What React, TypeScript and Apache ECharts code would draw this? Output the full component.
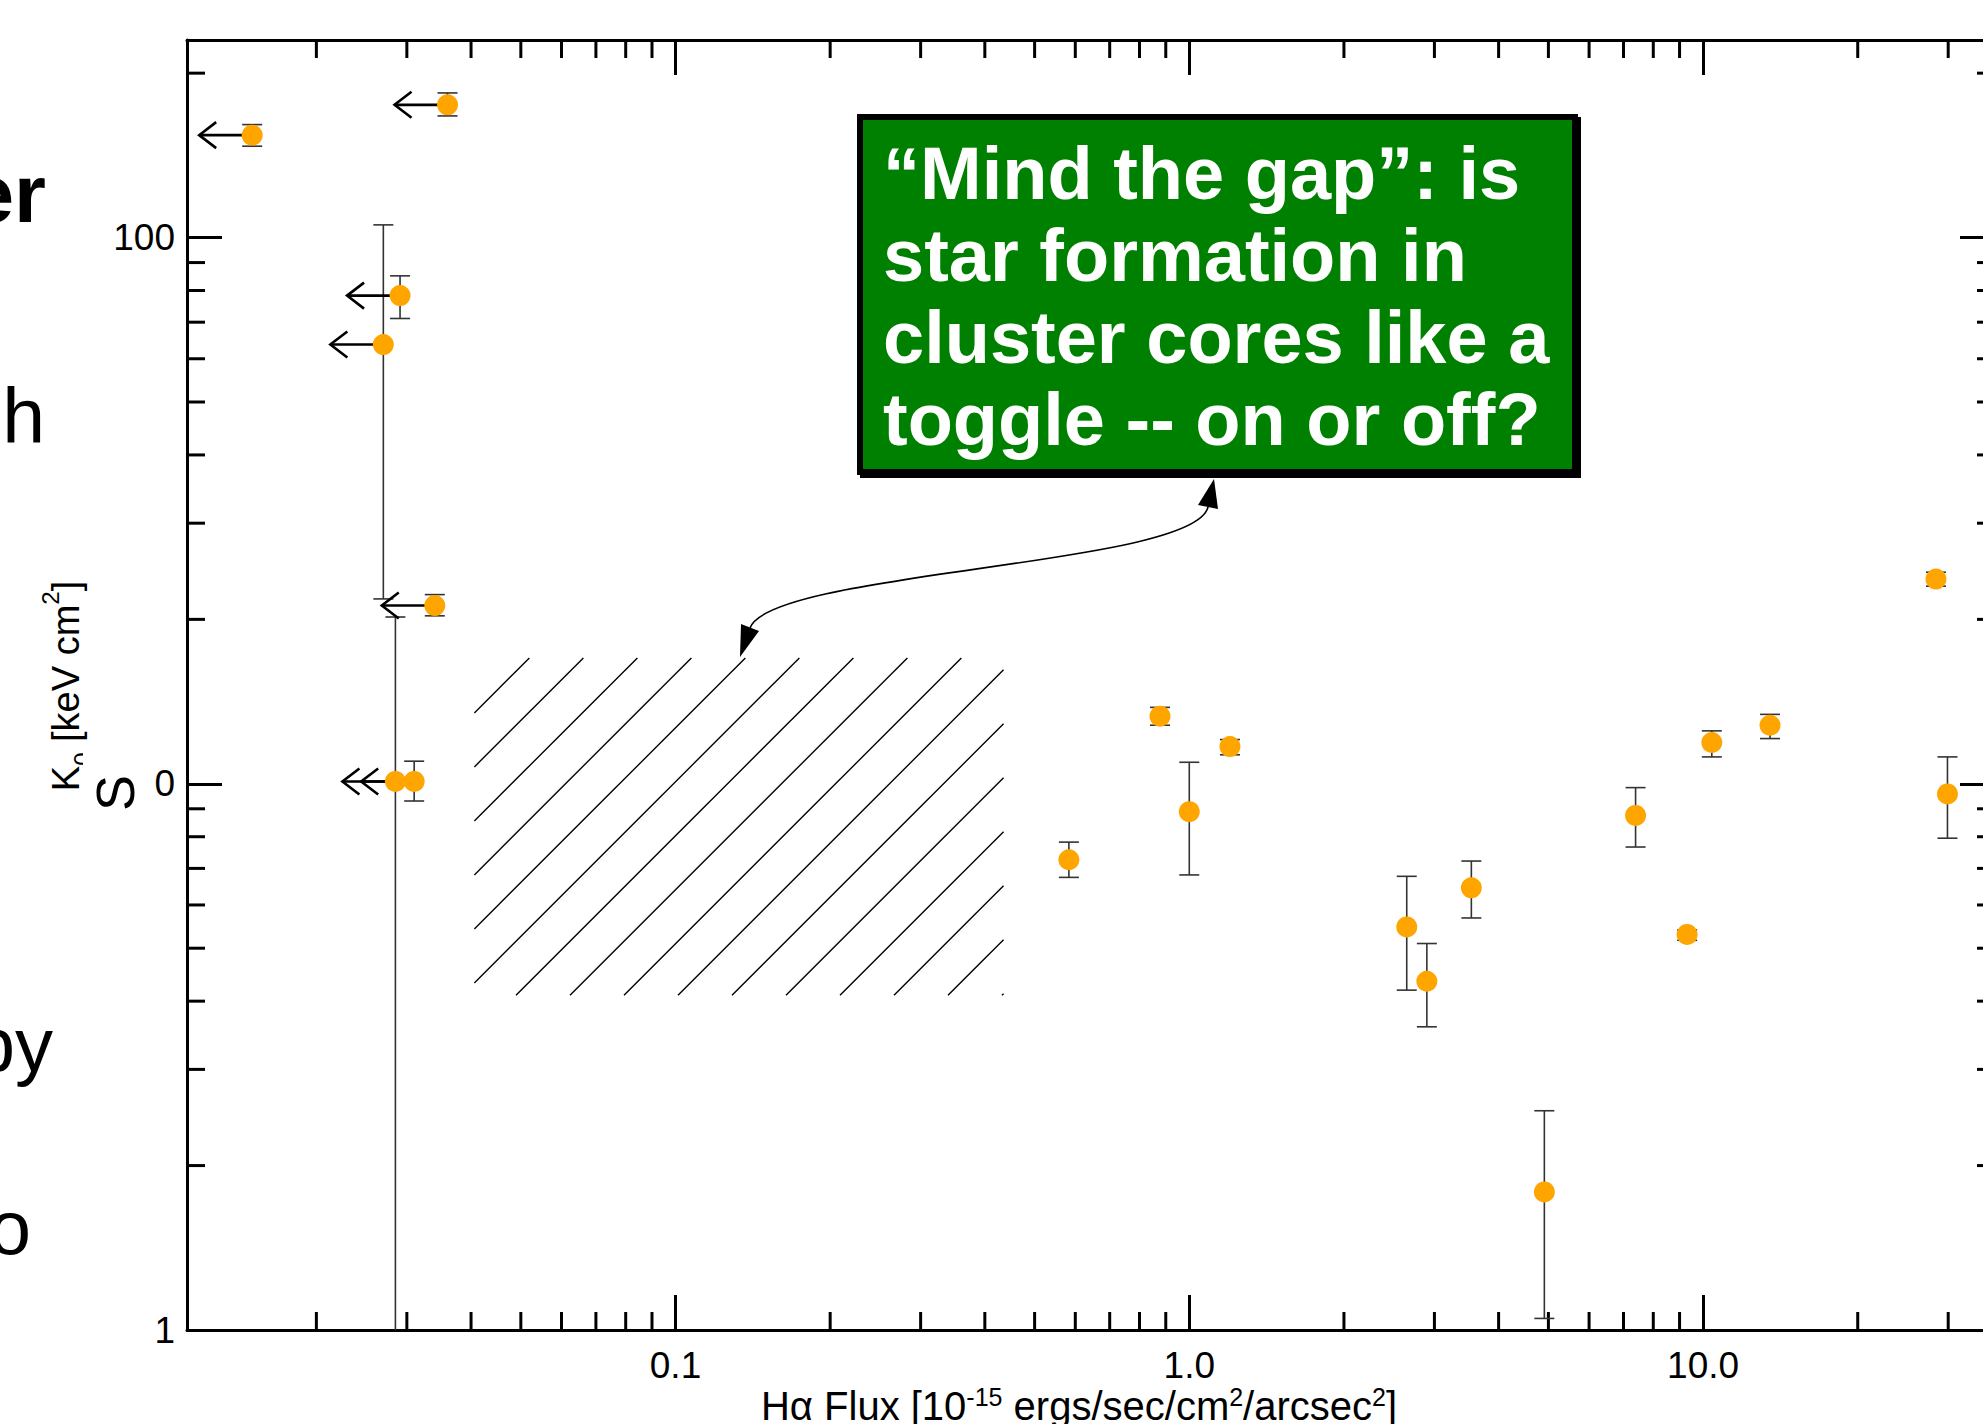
import React, { useEffect, useRef } from "react";
import * as echarts from "echarts";

// ---- axis ranges & ticks ----
const X_MIN = 0.0112;
const X_MAX = 37;
const Y_MIN = 1;
const Y_MAX = 230;

const xMajorTicks = [0.1, 1, 10];
const xTickLabels = ["0.1", "1.0", "10.0"];
const yMajorTicks = [1, 10, 100];
const yTickLabels = ["1", "10", "100"];
const xMinorTicks = [0.02, 0.03, 0.04, 0.05, 0.06, 0.07, 0.08, 0.09, 0.2, 0.3, 0.4, 0.5, 0.6, 0.7, 0.8, 0.9, 2, 3, 4, 5, 6, 7, 8, 9, 20, 30];
const yMinorTicks = [2, 3, 4, 5, 6, 7, 8, 9, 20, 30, 40, 50, 60, 70, 80, 90, 200];

// ---- data: H-alpha flux vs K0 ----
const haFlux = [0.015, 0.036, 0.0291, 0.027, 0.034, 0.0285, 0.031, 0.583, 0.877, 1.0, 1.2, 2.65, 2.9, 3.54, 4.91, 7.39, 9.31, 10.4, 13.5, 28.4, 29.9];
const k0 = [154, 175, 78.3, 63.7, 21.2, 10.1, 10.1, 7.26, 13.3, 8.89, 11.7, 5.47, 4.35, 6.45, 1.79, 8.75, 5.3, 11.9, 12.8, 23.7, 9.58];
const k0Low = [147, 167, 71.1, 21.8, 20.3, 0.5, 9.3, 6.74, 12.8, 6.81, 11.3, 4.19, 3.59, 5.68, 1.05, 7.66, 5.17, 11.2, 12.1, 23.0, 7.95];
const k0High = [161, 184, 85.1, 105.5, 22.2, 20.2, 11.0, 7.82, 13.8, 10.95, 12.05, 6.77, 5.1, 7.22, 2.52, 9.84, 5.4, 12.5, 13.4, 24.4, 11.2];
const fluxUpperLimit = [true, true, true, true, true, true, true, false, false, false, false, false, false, false, false, false, false, false, false, false, false];

// ---- hatched "gap" region (x from, y top, x to, y bottom) ----
const gapRegion = [0.0406, 17, 0.435, 4.1];

const boxLines = [
  "\u201cMind the gap\u201d: is",
  "star formation in",
  "cluster cores like a",
  "toggle -- on or off?",
];

const FONT = '"Liberation Sans", Arial, Helvetica, sans-serif';

const near = (v: number, t: number) => Math.abs(v - t) / t < 1e-6;
const makeFormatter = (ticks: number[], labels: string[]) => (v: number) => {
  const i = ticks.findIndex((t) => near(v, t));
  return i >= 0 ? labels[i] : "";
};

const axisCommon: any = {
  type: "log",
  logBase: 10,
  axisLine: { show: true, onZero: false, lineStyle: { color: "#000", width: 3 } },
  axisTick: { show: true, inside: true, length: 35, lineStyle: { color: "#000", width: 3 } },
  splitLine: { show: false },
  minorTick: { show: false },
  minorSplitLine: { show: false },
};

const CHART_W = 2030;
const CHART_H = 1424;

export default function App() {
  const ref = useRef<HTMLDivElement>(null);

  useEffect(() => {
    if (!ref.current) return;
    const chart = echarts.init(ref.current, null, { renderer: "svg" });

    const tickStyle = { stroke: "#000", lineWidth: 3 };
    const MINOR = 18;

    const option: any = {
      animation: false,
      backgroundColor: "#fff",
      grid: { left: 187, top: 40, width: 1808, height: 1290, containLabel: false, outerBoundsMode: "none" },
      xAxis: [
        {
          ...axisCommon,
          position: "bottom",
          min: X_MIN,
          max: X_MAX,
          axisLabel: {
            show: true,
            margin: 17,
            fontSize: 37,
            lineHeight: 37,
            fontFamily: FONT,
            color: "#000",
            formatter: makeFormatter(xMajorTicks, xTickLabels),
          },
        },
        { ...axisCommon, position: "top", min: X_MIN, max: X_MAX, axisLabel: { show: false } },
      ],
      yAxis: [
        {
          ...axisCommon,
          position: "left",
          min: Y_MIN,
          max: Y_MAX,
          axisLabel: {
            show: true,
            margin: 12,
            fontSize: 37,
            fontFamily: FONT,
            color: "#000",
            formatter: makeFormatter(yMajorTicks, yTickLabels),
          },
        },
        { ...axisCommon, position: "right", min: Y_MIN, max: Y_MAX, axisLabel: { show: false } },
      ],
      series: [
        {
          type: "custom",
          name: "xMinorTicks",
          xAxisIndex: 0,
          yAxisIndex: 0,
          silent: true,
          data: xMinorTicks.map((v) => [v, Y_MIN]),
          renderItem: (params: any, api: any) => {
            const v = api.value(0);
            const b = api.coord([v, Y_MIN]);
            const t = api.coord([v, Y_MAX]);
            return {
              type: "group",
              children: [
                { type: "line", shape: { x1: b[0], y1: b[1], x2: b[0], y2: b[1] - MINOR }, style: tickStyle },
                { type: "line", shape: { x1: t[0], y1: t[1], x2: t[0], y2: t[1] + MINOR }, style: tickStyle },
              ],
            };
          },
        },
        {
          type: "custom",
          name: "yMinorTicks",
          xAxisIndex: 0,
          yAxisIndex: 0,
          silent: true,
          data: yMinorTicks.map((v) => [X_MIN, v]),
          renderItem: (params: any, api: any) => {
            const v = api.value(1);
            const l = api.coord([X_MIN, v]);
            const r = api.coord([X_MAX, v]);
            return {
              type: "group",
              children: [
                { type: "line", shape: { x1: l[0], y1: l[1], x2: l[0] + MINOR, y2: l[1] }, style: tickStyle },
                { type: "line", shape: { x1: r[0], y1: r[1], x2: r[0] - MINOR, y2: r[1] }, style: tickStyle },
              ],
            };
          },
        },
        {
          type: "custom",
          name: "gap",
          xAxisIndex: 0,
          yAxisIndex: 0,
          silent: true,
          data: [gapRegion],
          renderItem: (params: any, api: any) => {
            const p0 = api.coord([api.value(0), api.value(1)]);
            const p1 = api.coord([api.value(2), api.value(3)]);
            const X0 = p0[0], Y0 = p0[1], X1 = p1[0], Y1 = p1[1];
            const children: any[] = [];
            const spacing = 54;
            for (let c = X0 + Y0 + 55; c < X1 + Y1 - 1; c += spacing) {
              const xa = Math.max(X0, c - Y1);
              const xb = Math.min(X1, c - Y0);
              if (xb > xa) {
                children.push({
                  type: "line",
                  shape: { x1: xa, y1: c - xa, x2: xb, y2: c - xb },
                  style: { stroke: "#000", lineWidth: 1.4 },
                });
              }
            }
            return { type: "group", children };
          },
        },
        {
          type: "custom",
          name: "errorBars",
          xAxisIndex: 0,
          yAxisIndex: 0,
          clip: true,
          silent: true,
          data: haFlux.map((x, i) => [x, k0[i], k0Low[i], k0High[i]]),
          renderItem: (params: any, api: any) => {
            const x = api.value(0);
            const a = api.coord([x, api.value(3)]);
            const b = api.coord([x, api.value(2)]);
            const w = 10;
            const st = { stroke: "#333", lineWidth: 1.6 };
            return {
              type: "group",
              children: [
                { type: "line", shape: { x1: a[0], y1: a[1], x2: b[0], y2: b[1] }, style: st },
                { type: "line", shape: { x1: a[0] - w, y1: a[1], x2: a[0] + w, y2: a[1] }, style: st },
                { type: "line", shape: { x1: b[0] - w, y1: b[1], x2: b[0] + w, y2: b[1] }, style: st },
              ],
            };
          },
        },
        {
          type: "custom",
          name: "upperLimits",
          xAxisIndex: 0,
          yAxisIndex: 0,
          silent: true,
          data: haFlux.map((x, i) => [x, k0[i]]).filter((_, i) => fluxUpperLimit[i]),
          renderItem: (params: any, api: any) => {
            const p = api.coord([api.value(0), api.value(1)]);
            const tip = p[0] - 53;
            const st = { stroke: "#000", lineWidth: 2.6, fill: "none" };
            return {
              type: "group",
              children: [
                { type: "line", shape: { x1: tip, y1: p[1], x2: p[0], y2: p[1] }, style: st },
                {
                  type: "polyline",
                  shape: { points: [[tip + 17, p[1] - 13], [tip, p[1]], [tip + 17, p[1] + 13]] },
                  style: st,
                },
              ],
            };
          },
        },
        {
          type: "scatter",
          name: "K0",
          xAxisIndex: 0,
          yAxisIndex: 0,
          symbol: "circle",
          symbolSize: 21,
          z: 5,
          itemStyle: { color: "#FFA500", opacity: 1 },
          data: haFlux.map((x, i) => [x, k0[i]]),
        },
      ],
      graphic: {
        elements: [
          // callout box shadow + box
          { type: "rect", z: 100, shape: { x: 860, y: 117, width: 721, height: 361 }, style: { fill: "#000" } },
          {
            type: "rect",
            z: 101,
            shape: { x: 860, y: 117, width: 715, height: 355 },
            style: { fill: "#008000", stroke: "#000", lineWidth: 6 },
          },
          ...boxLines.map((line, i) => ({
            type: "text",
            z: 102,
            x: 883,
            y: 173 + i * 82.2,
            style: {
              text: line,
              font: `bold 74px ${FONT}`,
              fill: "#fff",
              align: "left",
              verticalAlign: "middle",
              textAlign: "left",
              textVerticalAlign: "middle",
              textShadowColor: "#000",
              textShadowOffsetX: 3,
              textShadowOffsetY: 3,
              textShadowBlur: 0,
            },
          })),
          // curved double-headed arrow
          {
            type: "bezierCurve",
            z: 100,
            shape: { x1: 1208, y1: 507, cpx1: 1195, cpy1: 566, cpx2: 770, cpy2: 571, x2: 750, y2: 628 },
            style: { stroke: "#000", lineWidth: 1.6, fill: "none" },
          },
          {
            type: "polygon",
            z: 100,
            shape: { points: [[1214, 479], [1218, 509], [1198, 505]] },
            style: { fill: "#000" },
          },
          {
            type: "polygon",
            z: 100,
            shape: { points: [[740, 657], [759, 631], [741, 624]] },
            style: { fill: "#000" },
          },
          // axis titles
          {
            type: "text",
            z: 100,
            x: 1079,
            y: 1406,
            style: {
              text: "{n|H\u03b1 Flux [10}{p|-15}{n| ergs/sec/cm}{p|2}{n|/arcsec}{p|2}{n|]}",
              align: "center",
              verticalAlign: "middle",
              textAlign: "center",
              textVerticalAlign: "middle",
              font: `40px ${FONT}`,
              fill: "#000",
              rich: {
                n: { fontSize: 40, fontFamily: FONT, fill: "#000", lineHeight: 44 },
                p: { fontSize: 25, fontFamily: FONT, fill: "#000", lineHeight: 30, verticalAlign: "top" },
              },
            },
          },
          {
            type: "text",
            z: 100,
            x: 66,
            y: 686,
            rotation: Math.PI / 2,
            style: {
              text: "{n|K}{s|0}{n| [keV cm}{p|2}{n|]}",
              align: "center",
              verticalAlign: "middle",
              textAlign: "center",
              textVerticalAlign: "middle",
              font: `38px ${FONT}`,
              fill: "#000",
              rich: {
                n: { fontSize: 38, fontFamily: FONT, fill: "#000", lineHeight: 56 },
                s: { fontSize: 24, fontFamily: FONT, fill: "#000", lineHeight: 32, verticalAlign: "bottom" },
                p: { fontSize: 24, fontFamily: FONT, fill: "#000", lineHeight: 40, verticalAlign: "top" },
              },
            },
          },
          // slide text box overlapping the axis area
          { type: "rect", z: 110, shape: { x: 83, y: 745, width: 71, height: 85 }, style: { fill: "#fff" } },
          {
            type: "text",
            z: 111,
            x: 115,
            y: 793,
            rotation: Math.PI / 2,
            style: {
              text: "S",
              font: `54px ${FONT}`,
              fill: "#000",
              align: "center",
              verticalAlign: "middle",
              textAlign: "center",
              textVerticalAlign: "middle",
            },
          },
          // cut-off slide text at the left edge
          {
            type: "text",
            z: 100,
            x: 46,
            y: 193,
            style: { text: "er", font: `bold 82px ${FONT}`, fill: "#000", align: "right", verticalAlign: "middle", textAlign: "right", textVerticalAlign: "middle" },
          },
          {
            type: "text",
            z: 100,
            x: 45,
            y: 416,
            style: { text: "h", font: `77px ${FONT}`, fill: "#000", align: "right", verticalAlign: "middle", textAlign: "right", textVerticalAlign: "middle" },
          },
          {
            type: "text",
            z: 100,
            x: 53,
            y: 1044,
            style: { text: "py", font: `76px ${FONT}`, fill: "#000", align: "right", verticalAlign: "middle", textAlign: "right", textVerticalAlign: "middle" },
          },
          {
            type: "text",
            z: 100,
            x: 31,
            y: 1227,
            style: { text: "o", font: `76px ${FONT}`, fill: "#000", align: "right", verticalAlign: "middle", textAlign: "right", textVerticalAlign: "middle" },
          },
        ],
      },
    };

    chart.setOption(option);
    return () => chart.dispose();
  }, []);

  return (
    <div
      style={{ position: "absolute", left: 0, top: 0, width: 1983, height: 1424, overflow: "hidden", background: "#fff" }}
    >
      <div ref={ref} style={{ position: "absolute", left: 0, top: 0, width: CHART_W, height: CHART_H }} />
    </div>
  );
}
